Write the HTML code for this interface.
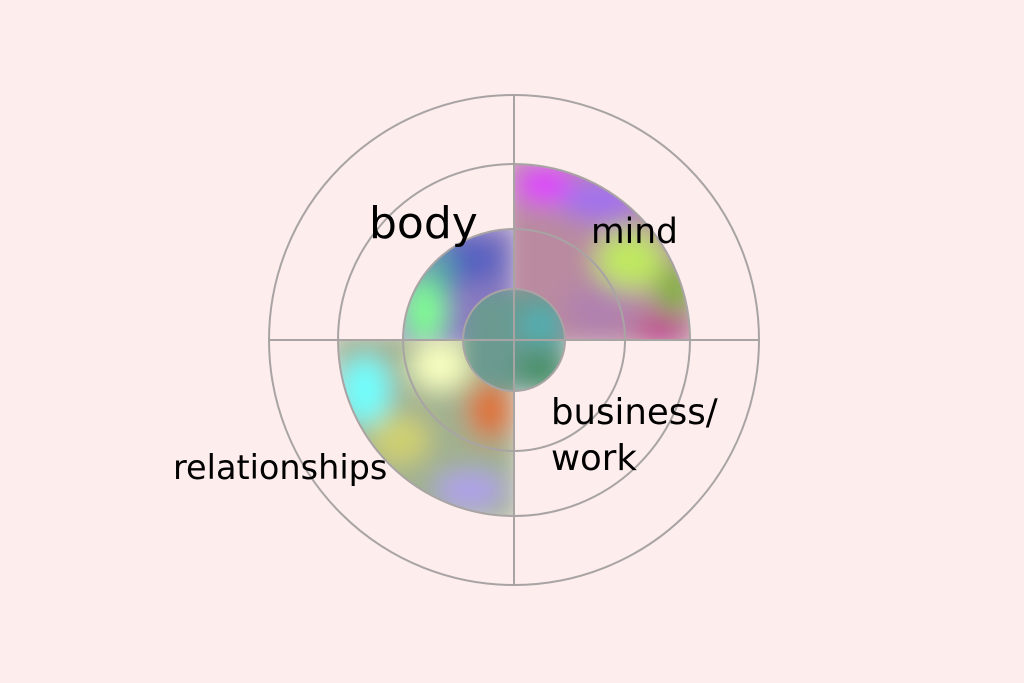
<!DOCTYPE html>
<html><head><style>
html,body{margin:0;padding:0;background:#fdeded;}
svg{display:block}
text{font-family:"DejaVu Sans","Liberation Sans",sans-serif;fill:#000}
</style></head><body>
<svg width="1024" height="683" viewBox="0 0 1024 683">
<defs>
<filter id="b" x="-50%" y="-50%" width="200%" height="200%"><feGaussianBlur stdDeviation="13"/></filter>
<clipPath id="cm"><path d="M514,340 L514,164 A176,176 0 0 1 690,340 Z"/></clipPath>
<clipPath id="cb"><path d="M514,340 L403,340 A111,111 0 0 1 514,229 Z"/></clipPath>
<clipPath id="cr"><path d="M514,340 L514,516 A176,176 0 0 1 338,340 Z"/></clipPath>
<clipPath id="ci"><circle cx="514" cy="340" r="51"/></clipPath>
</defs>
<rect width="1024" height="683" fill="#fdeded"/>
<g clip-path="url(#cm)"><g filter="url(#b)">
<rect x="500" y="150" width="200" height="200" fill="#b98aa0"/>
<ellipse cx="545" cy="185" rx="30" ry="20" fill="#e040ff"/>
<ellipse cx="600" cy="200" rx="40" ry="20" fill="#a070f0"/>
<ellipse cx="630" cy="260" rx="35" ry="30" fill="#c0e860"/>
<ellipse cx="675" cy="290" rx="20" ry="25" fill="#80b030"/>
<ellipse cx="660" cy="330" rx="25" ry="15" fill="#c04090"/>
<ellipse cx="600" cy="310" rx="35" ry="25" fill="#b080b0"/>
</g></g>
<g clip-path="url(#cb)"><g filter="url(#b)">
<rect x="390" y="220" width="130" height="130" fill="#8a7cc0"/>
<ellipse cx="425" cy="310" rx="20" ry="35" fill="#80ff90"/>
<ellipse cx="470" cy="260" rx="35" ry="25" fill="#5560c0"/>
<ellipse cx="440" cy="270" rx="12" ry="25" fill="#50b0a0"/>
</g></g>
<g clip-path="url(#cr)"><g filter="url(#b)">
<rect x="330" y="330" width="190" height="195" fill="#a0b090"/>
<ellipse cx="365" cy="390" rx="25" ry="35" fill="#70ffff"/>
<ellipse cx="440" cy="365" rx="30" ry="25" fill="#f8ffc0"/>
<ellipse cx="490" cy="410" rx="22" ry="30" fill="#e07030"/>
<ellipse cx="400" cy="440" rx="30" ry="25" fill="#d0d070"/>
<ellipse cx="470" cy="490" rx="35" ry="18" fill="#b0a0f0"/>
</g></g>
<g clip-path="url(#ci)"><g filter="url(#b)">
<rect x="460" y="285" width="110" height="110" fill="#6a9a90"/>
<ellipse cx="540" cy="325" rx="18" ry="14" fill="#40b8c0"/>
<ellipse cx="540" cy="370" rx="22" ry="18" fill="#409060"/>
</g></g>
<g fill="none" stroke="#a9a4a4" stroke-width="2">
<circle cx="514" cy="340" r="245"/>
<circle cx="514" cy="340" r="176"/>
<circle cx="514" cy="340" r="111"/>
<circle cx="514" cy="340" r="51"/>
<line x1="514" y1="95" x2="514" y2="586"/>
<line x1="269" y1="340" x2="759" y2="340"/>
</g>
<text x="369" y="238" font-size="44">body</text>
<text x="591" y="243" font-size="34.5">mind</text>
<text x="551" y="424" font-size="35.5">business/</text>
<text x="551" y="470" font-size="35.5">work</text>
<text x="173" y="479" font-size="33.5">relationships</text>
</svg>
</body></html>
